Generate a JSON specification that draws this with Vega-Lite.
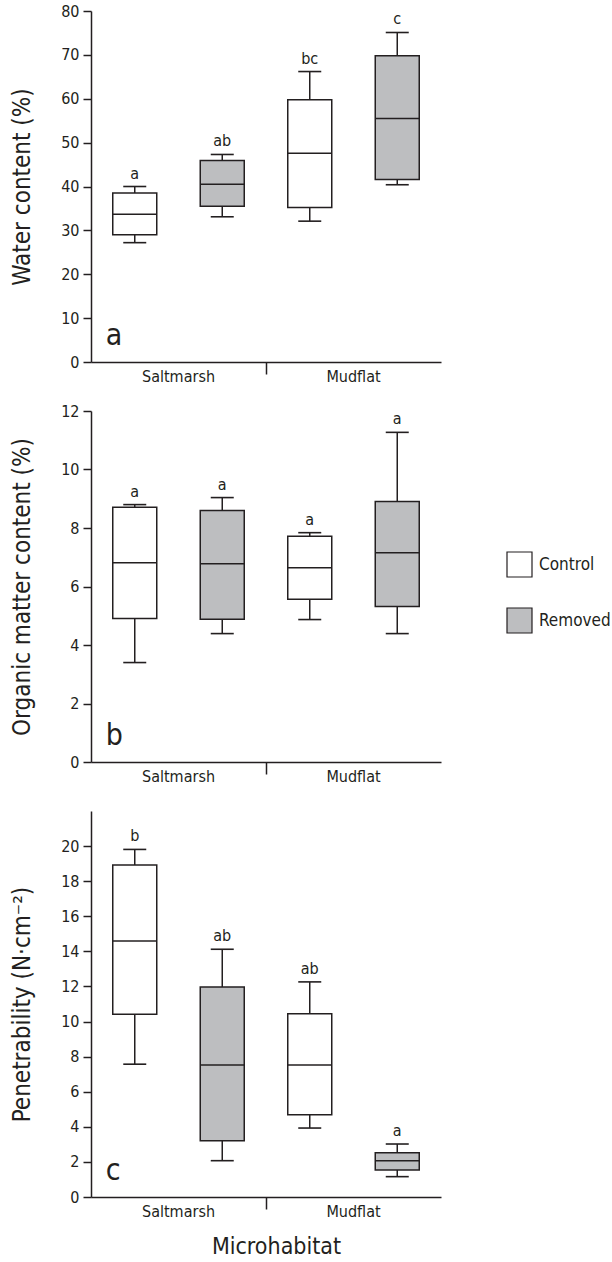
{
  "$schema": "https://vega.github.io/schema/vega-lite/v6.json",
  "padding": {"left": 10, "top": 3, "right": 0, "bottom": 0},
  "background": "white",
  "config": {
    "font": "DejaVu Sans Condensed, DejaVu Sans",
    "view": {"stroke": null},
    "axis": {
      "grid": false,
      "domainColor": "#231f20",
      "domainWidth": 1.5,
      "tickColor": "#231f20",
      "tickWidth": 1.5,
      "labelColor": "#231f20",
      "titleColor": "#231f20",
      "labelFontSize": 16,
      "titleFontSize": 24,
      "titleFontWeight": "normal",
      "labelOverlap": false
    },
    "axisY": {"tickSize": 8, "labelPadding": 4, "titlePadding": 26},
    "axisX": {"tickSize": 12, "labelPadding": -6, "labelAngle": 0, "titlePadding": 16},
    "text": {"color": "#231f20"}
  },
  "datasets": {
    "bx": [
      {"panel": "a", "habitat": "Saltmarsh", "treatment": "Control", "lower": 27.2, "q1": 29.0, "median": 33.7, "q3": 38.5, "upper": 40.0, "letter": "a"},
      {"panel": "a", "habitat": "Saltmarsh", "treatment": "Removed", "lower": 33.1, "q1": 35.5, "median": 40.5, "q3": 45.9, "upper": 47.3, "letter": "ab"},
      {"panel": "a", "habitat": "Mudflat", "treatment": "Control", "lower": 32.1, "q1": 35.2, "median": 47.6, "q3": 59.8, "upper": 66.2, "letter": "bc"},
      {"panel": "a", "habitat": "Mudflat", "treatment": "Removed", "lower": 40.4, "q1": 41.6, "median": 55.5, "q3": 69.8, "upper": 75.1, "letter": "c"},
      {"panel": "b", "habitat": "Saltmarsh", "treatment": "Control", "lower": 3.40, "q1": 4.91, "median": 6.81, "q3": 8.71, "upper": 8.80, "letter": "a"},
      {"panel": "b", "habitat": "Saltmarsh", "treatment": "Removed", "lower": 4.39, "q1": 4.88, "median": 6.78, "q3": 8.60, "upper": 9.04, "letter": "a"},
      {"panel": "b", "habitat": "Mudflat", "treatment": "Control", "lower": 4.87, "q1": 5.56, "median": 6.64, "q3": 7.72, "upper": 7.84, "letter": "a"},
      {"panel": "b", "habitat": "Mudflat", "treatment": "Removed", "lower": 4.39, "q1": 5.32, "median": 7.15, "q3": 8.91, "upper": 11.27, "letter": "a"},
      {"panel": "c", "habitat": "Saltmarsh", "treatment": "Control", "lower": 7.57, "q1": 10.42, "median": 14.59, "q3": 18.92, "upper": 19.81, "letter": "b"},
      {"panel": "c", "habitat": "Saltmarsh", "treatment": "Removed", "lower": 2.07, "q1": 3.21, "median": 7.53, "q3": 11.97, "upper": 14.12, "letter": "ab"},
      {"panel": "c", "habitat": "Mudflat", "treatment": "Control", "lower": 3.93, "q1": 4.69, "median": 7.53, "q3": 10.44, "upper": 12.26, "letter": "ab"},
      {"panel": "c", "habitat": "Mudflat", "treatment": "Removed", "lower": 1.16, "q1": 1.54, "median": 2.07, "q3": 2.52, "upper": 3.02, "letter": "a"}
    ]
  },
  "data": {"name": "bx"},
  "bounds": "flush",
  "spacing": 49,
  "resolve": {"scale": {"x": "independent", "y": "independent", "fill": "shared"}},
  "vconcat": [
    {
      "width": 350, "height": 351,
      "transform": [{"filter": "datum.panel === 'a'"}],
      "encoding": {
        "x": {"field": "habitat", "type": "nominal", "scale": {"domain": ["Saltmarsh", "Mudflat"], "paddingInner": 0, "paddingOuter": 0},
              "axis": {"title": null, "bandPosition": 0, "tickOpacity": {"condition": {"test": "datum.value === 'Saltmarsh'", "value": 0}, "value": 1}}},
        "xOffset": {"field": "treatment", "type": "nominal", "scale": {"domain": ["Control", "Removed"], "paddingInner": 0, "paddingOuter": 0}}
      },
      "layer": [
        {"mark": {"type": "rule", "stroke": "#231f20", "strokeWidth": 1.5},
         "encoding": {"y": {"field": "lower", "type": "quantitative", "scale": {"domain": [0, 80]},
                            "axis": {"title": "Water content (%)", "labelOverlap": false, "values": [0, 10, 20, 30, 40, 50, 60, 70, 80]}},
                      "y2": {"field": "upper"}}},
        {"mark": {"type": "tick", "size": 23, "thickness": 1.6, "color": "#231f20", "opacity": 1},
         "encoding": {"y": {"field": "lower", "type": "quantitative"}}},
        {"mark": {"type": "tick", "size": 23, "thickness": 1.6, "color": "#231f20", "opacity": 1},
         "encoding": {"y": {"field": "upper", "type": "quantitative"}}},
        {"mark": {"type": "bar", "size": 44, "stroke": "#231f20", "strokeWidth": 1.5},
         "encoding": {"y": {"field": "q1", "type": "quantitative"}, "y2": {"field": "q3"},
                      "fill": {"field": "treatment", "type": "nominal", "scale": {"domain": ["Control", "Removed"], "range": ["#ffffff", "#bdbec0"]},
                               "legend": {"orient": "none", "legendX": 415, "legendY": 540, "title": null, "symbolType": "square", "symbolSize": 625, "symbolStrokeColor": "#231f20", "symbolStrokeWidth": 1.2, "labelFontSize": 17, "labelOffset": 6, "rowPadding": 25, "padding": 0, "labelColor": "#231f20"}}}},
        {"mark": {"type": "tick", "size": 44, "thickness": 1.5, "color": "#231f20", "opacity": 1},
         "encoding": {"y": {"field": "median", "type": "quantitative"}}},
        {"mark": {"type": "text", "baseline": "bottom", "dy": -5, "fontSize": 16},
         "encoding": {"y": {"field": "upper", "type": "quantitative"}, "text": {"field": "letter"}}},
        {"transform": [{"filter": "datum.habitat === 'Saltmarsh' && datum.treatment === 'Control'"}],
         "mark": {"type": "text", "align": "left", "baseline": "alphabetic", "dx": -29, "dy": -17, "fontSize": 30, "text": "a"},
         "encoding": {"y": {"datum": 0, "type": "quantitative"}}}
      ]
    },
    {
      "width": 350, "height": 351,
      "transform": [{"filter": "datum.panel === 'b'"}],
      "encoding": {
        "x": {"field": "habitat", "type": "nominal", "scale": {"domain": ["Saltmarsh", "Mudflat"], "paddingInner": 0, "paddingOuter": 0},
              "axis": {"title": null, "bandPosition": 0, "tickOpacity": {"condition": {"test": "datum.value === 'Saltmarsh'", "value": 0}, "value": 1}}},
        "xOffset": {"field": "treatment", "type": "nominal", "scale": {"domain": ["Control", "Removed"], "paddingInner": 0, "paddingOuter": 0}}
      },
      "layer": [
        {"mark": {"type": "rule", "stroke": "#231f20", "strokeWidth": 1.5},
         "encoding": {"y": {"field": "lower", "type": "quantitative", "scale": {"domain": [0, 12]},
                            "axis": {"title": "Organic matter content (%)", "labelOverlap": false, "values": [0, 2, 4, 6, 8, 10, 12]}},
                      "y2": {"field": "upper"}}},
        {"mark": {"type": "tick", "size": 23, "thickness": 1.6, "color": "#231f20", "opacity": 1},
         "encoding": {"y": {"field": "lower", "type": "quantitative"}}},
        {"mark": {"type": "tick", "size": 23, "thickness": 1.6, "color": "#231f20", "opacity": 1},
         "encoding": {"y": {"field": "upper", "type": "quantitative"}}},
        {"mark": {"type": "bar", "size": 44, "stroke": "#231f20", "strokeWidth": 1.5},
         "encoding": {"y": {"field": "q1", "type": "quantitative"}, "y2": {"field": "q3"},
                      "fill": {"field": "treatment", "type": "nominal", "scale": {"domain": ["Control", "Removed"], "range": ["#ffffff", "#bdbec0"]},
                               "legend": {"orient": "none", "legendX": 415, "legendY": 540, "title": null, "symbolType": "square", "symbolSize": 625, "symbolStrokeColor": "#231f20", "symbolStrokeWidth": 1.2, "labelFontSize": 17, "labelOffset": 6, "rowPadding": 25, "padding": 0, "labelColor": "#231f20"}}}},
        {"mark": {"type": "tick", "size": 44, "thickness": 1.5, "color": "#231f20", "opacity": 1},
         "encoding": {"y": {"field": "median", "type": "quantitative"}}},
        {"mark": {"type": "text", "baseline": "bottom", "dy": -5, "fontSize": 16},
         "encoding": {"y": {"field": "upper", "type": "quantitative"}, "text": {"field": "letter"}}},
        {"transform": [{"filter": "datum.habitat === 'Saltmarsh' && datum.treatment === 'Control'"}],
         "mark": {"type": "text", "align": "left", "baseline": "alphabetic", "dx": -29, "dy": -17, "fontSize": 30, "text": "b"},
         "encoding": {"y": {"datum": 0, "type": "quantitative"}}}
      ]
    },
    {
      "width": 350, "height": 386,
      "transform": [{"filter": "datum.panel === 'c'"}],
      "encoding": {
        "x": {"field": "habitat", "type": "nominal", "scale": {"domain": ["Saltmarsh", "Mudflat"], "paddingInner": 0, "paddingOuter": 0},
              "axis": {"title": "Microhabitat", "titleFontSize": 23, "titleX": 185, "bandPosition": 0, "tickOpacity": {"condition": {"test": "datum.value === 'Saltmarsh'", "value": 0}, "value": 1}}},
        "xOffset": {"field": "treatment", "type": "nominal", "scale": {"domain": ["Control", "Removed"], "paddingInner": 0, "paddingOuter": 0}}
      },
      "layer": [
        {"mark": {"type": "rule", "stroke": "#231f20", "strokeWidth": 1.5},
         "encoding": {"y": {"field": "lower", "type": "quantitative", "scale": {"domain": [0, 22]},
                            "axis": {"title": "Penetrability (N·cm⁻²)", "labelOverlap": false, "tickCount": 12, "values": [0, 2, 4, 6, 8, 10, 12, 14, 16, 18, 20]}},
                      "y2": {"field": "upper"}}},
        {"mark": {"type": "tick", "size": 23, "thickness": 1.6, "color": "#231f20", "opacity": 1},
         "encoding": {"y": {"field": "lower", "type": "quantitative"}}},
        {"mark": {"type": "tick", "size": 23, "thickness": 1.6, "color": "#231f20", "opacity": 1},
         "encoding": {"y": {"field": "upper", "type": "quantitative"}}},
        {"mark": {"type": "bar", "size": 44, "stroke": "#231f20", "strokeWidth": 1.5},
         "encoding": {"y": {"field": "q1", "type": "quantitative"}, "y2": {"field": "q3"},
                      "fill": {"field": "treatment", "type": "nominal", "scale": {"domain": ["Control", "Removed"], "range": ["#ffffff", "#bdbec0"]},
                               "legend": {"orient": "none", "legendX": 415, "legendY": 540, "title": null, "symbolType": "square", "symbolSize": 625, "symbolStrokeColor": "#231f20", "symbolStrokeWidth": 1.2, "labelFontSize": 17, "labelOffset": 6, "rowPadding": 25, "padding": 0, "labelColor": "#231f20"}}}},
        {"mark": {"type": "tick", "size": 44, "thickness": 1.5, "color": "#231f20", "opacity": 1},
         "encoding": {"y": {"field": "median", "type": "quantitative"}}},
        {"mark": {"type": "text", "baseline": "bottom", "dy": -5, "fontSize": 16},
         "encoding": {"y": {"field": "upper", "type": "quantitative"}, "text": {"field": "letter"}}},
        {"transform": [{"filter": "datum.habitat === 'Saltmarsh' && datum.treatment === 'Control'"}],
         "mark": {"type": "text", "align": "left", "baseline": "alphabetic", "dx": -29, "dy": -17, "fontSize": 30, "text": "c"},
         "encoding": {"y": {"datum": 0, "type": "quantitative"}}}
      ]
    }
  ]
}
